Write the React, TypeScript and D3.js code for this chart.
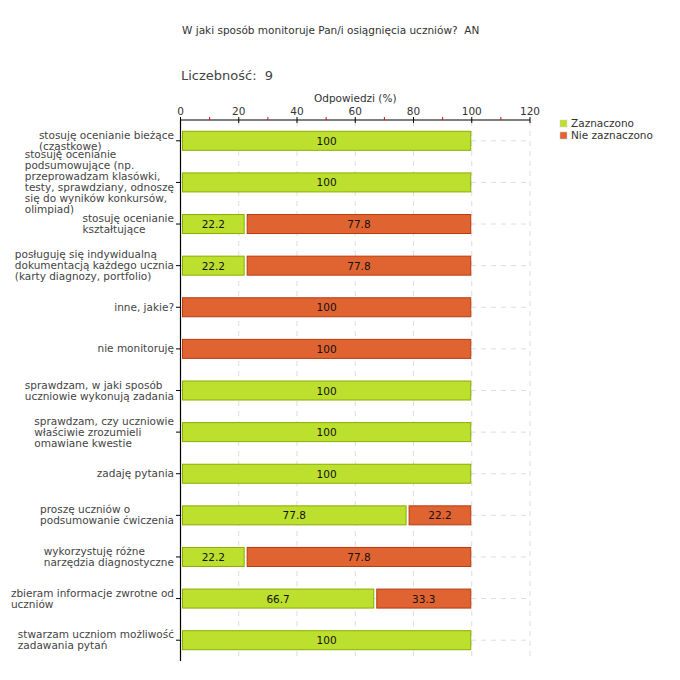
import React from "react";
import * as d3 from "d3";

const title = "W jaki sposób monitoruje Pan/i osiągnięcia uczniów?\u00a0\u00a0AN";
const countLabel = "Liczebność:\u00a0 9";
const axisTitle = "Odpowiedzi (%)";

const categories: string[][] = [
  ["stosuję ocenianie bieżące", "(cząstkowe)"],
  ["stosuję ocenianie", "podsumowujące (np.", "przeprowadzam klasówki,", "testy, sprawdziany, odnoszę", "się do wyników konkursów,", "olimpiad)"],
  ["stosuję ocenianie", "kształtujące"],
  ["posługuję się indywidualną", "dokumentacją każdego ucznia", "(karty diagnozy, portfolio)"],
  ["inne, jakie?"],
  ["nie monitoruję"],
  ["sprawdzam, w jaki sposób", "uczniowie wykonują zadania"],
  ["sprawdzam, czy uczniowie", "właściwie zrozumieli", "omawiane kwestie"],
  ["zadaję pytania"],
  ["proszę uczniów o", "podsumowanie ćwiczenia"],
  ["wykorzystuję różne", "narzędzia diagnostyczne"],
  ["zbieram informacje zwrotne od", "uczniów"],
  ["stwarzam uczniom możliwość", "zadawania pytań"],
];

const zaznaczono = [100, 100, 22.2, 22.2, 0, 0, 100, 100, 100, 77.8, 22.2, 66.7, 100];
const nieZaznaczono = [0, 0, 77.8, 77.8, 100, 100, 0, 0, 0, 22.2, 77.8, 33.3, 0];
const seriesNames = ["Zaznaczono", "Nie zaznaczono"];
const majorTicks = [0, 20, 40, 60, 80, 100, 120];
const minorTicks = [10, 30, 50, 70, 90, 110];

const fills = ["#bde02f", "#e06431"];
const strokes = ["#8aac00", "#b83a0e"];
const FONT = "'DejaVu Sans', Verdana, sans-serif";
const FS = 10.5;

let ctx: CanvasRenderingContext2D | null = null;
function measure(s: string, size: number) {
  if (!ctx && typeof document !== "undefined") ctx = document.createElement("canvas").getContext("2d");
  if (!ctx) return s.length * size * 0.55;
  ctx.font = `${size}px 'DejaVu Sans'`;
  return ctx.measureText(s).width;
}

export default function App() {
  const W = 680, H = 680;
  const x = d3.scaleLinear().domain([0, 120]).range([180.5, 530]);
  const y = d3.scaleBand<number>().domain(d3.range(categories.length)).range([120, 661]);
  const step = y.step();
  const barH = 19;
  const lineH = 11;

  return (
    <svg width={W} height={H} style={{ position: "absolute", left: 0, top: 0, background: "#fff" }} fontFamily={FONT}>
      <rect width={W} height={H} fill="#fff" />
      <text x={182} y={34} fontSize={FS} fill="#333">{title}</text>
      <text x={181} y={80} fontSize={13} fill="#444">{countLabel}</text>
      <text x={x(60)} y={102} fontSize={FS} fill="#333" textAnchor="middle">{axisTitle}</text>

      {majorTicks.slice(1).map((t) => (
        <line key={"vg" + t} x1={x(t)} x2={x(t)} y1={121} y2={661} stroke="#ddd" strokeDasharray="5,5" />
      ))}
      {categories.map((_, i) => {
        const cy = (y(i) as number) + step / 2;
        return <line key={"hg" + i} x1={181} x2={530} y1={cy} y2={cy} stroke="#ddd" strokeDasharray="5,5" />;
      })}

      {categories.map((_, i) => {
        const cy = (y(i) as number) + step / 2;
        const segs = [
          { s: 0, v: zaznaczono[i], k: 0 },
          { s: zaznaczono[i], v: nieZaznaczono[i], k: 1 },
        ];
        return segs.filter((d) => d.v > 0).map((d) => {
          const x0 = x(d.s) + 2;
          const x1 = x(d.s + d.v) - 1;
          return (
            <g key={"b" + i + "-" + d.k}>
              <rect x={x0} y={cy - barH / 2} width={x1 - x0} height={barH} fill={fills[d.k]} stroke={strokes[d.k]} strokeWidth={1} />
              <text x={(x0 + x1) / 2} y={cy + 4} fontSize={FS} fill="#111" textAnchor="middle">
                {Number.isInteger(d.v) ? d.v : d.v.toFixed(1)}
              </text>
            </g>
          );
        });
      })}

      <line x1={x(0)} x2={x(120)} y1={120} y2={120} stroke="#000" strokeWidth={1.2} />
      {majorTicks.map((t) => (
        <g key={"mt" + t}>
          <line x1={x(t)} x2={x(t)} y1={117} y2={123} stroke="#000" />
          <text x={x(t)} y={115} fontSize={FS} fill="#333" textAnchor="middle">{t}</text>
        </g>
      ))}
      {minorTicks.map((t) => (
        <line key={"nt" + t} x1={x(t)} x2={x(t)} y1={117} y2={120} stroke="#e00" />
      ))}

      <line x1={180.5} x2={180.5} y1={120} y2={661} stroke="#000" strokeWidth={1.2} />
      {categories.map((lines, i) => {
        const cy = (y(i) as number) + step / 2;
        const wmax = Math.max(...lines.map((l) => measure(l, FS)));
        const left = 174 - wmax;
        const top = cy - (lines.length * lineH) / 2;
        return (
          <g key={"cl" + i}>
            <line x1={176} x2={180} y1={cy} y2={cy} stroke="#000" />
            <text fontSize={FS} fill="#444">
              {lines.map((l, j) => (
                <tspan key={j} x={left} y={top + (j + 1) * lineH - 2}>{l}</tspan>
              ))}
            </text>
          </g>
        );
      })}

      {seriesNames.map((n, k) => (
        <g key={"lg" + k}>
          <rect x={560} y={120 + k * 12} width={7} height={7} fill={fills[k]} stroke="#ccc" strokeWidth={0.5} />
          <text x={571} y={127 + k * 12} fontSize={FS} fill="#333">{n}</text>
        </g>
      ))}
    </svg>
  );
}
